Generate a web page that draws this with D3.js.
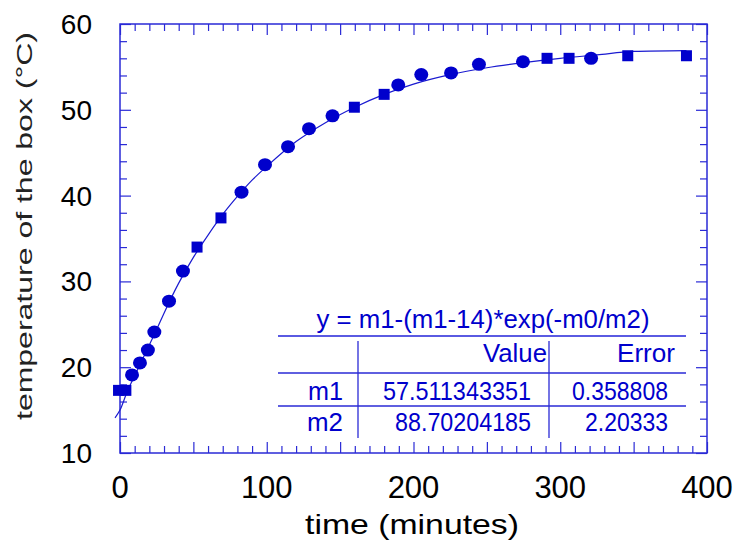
<!DOCTYPE html>
<html>
<head>
<meta charset="utf-8">
<script src="https://cdn.jsdelivr.net/npm/d3@7"></script>
<style>
  html, body { margin: 0; padding: 0; background: #ffffff; }
  svg { display: block; }
</style>
</head>
<body>
<div id="chart"></div>
<script>
// ---- data ----
const squareTimes = [-1, 4, 52.5, 68.8, 159.7, 180, 291, 306, 346, 386];
const squareTemps = [17.3, 17.3, 34.0, 37.4, 50.3, 51.8, 56.0, 56.0, 56.3, 56.3];

const roundTimes = [8.2, 13.6, 19, 23.4, 33.4, 42.9, 82.8, 98.8, 114.5, 128.8, 144.8, 189.6, 205.3, 225.6, 244.6, 274.6, 321];
const roundTemps = [19.1, 20.5, 22.0, 24.1, 27.7, 31.2, 40.4, 43.6, 45.7, 47.8, 49.3, 52.9, 54.1, 54.3, 55.3, 55.6, 56.0];

// fitted curve, as traced on the picture
const fitTimes = [-3.4, 0, 5, 10, 15, 20, 25, 30, 40, 50, 60, 70, 80, 90, 100, 120, 140, 160, 180, 200, 225, 250, 275, 300, 325, 350, 386];
const fitTemps = [14.1, 15.0, 17.2, 19.0, 20.8, 22.6, 24.4, 26.3, 29.8, 32.8, 35.4, 37.8, 39.9, 41.8, 43.4, 46.3, 48.5, 50.3, 51.8, 53.0, 54.1, 54.9, 55.5, 56.0, 56.4, 56.8, 56.9];

const xTickLabels = [0, 100, 200, 300, 400];
const yTickLabels = [10, 20, 30, 40, 50, 60];

const fitFormula = "y = m1-(m1-14)*exp(-m0/m2)";
const tableHeader = ["", "Value", "Error"];
const paramNames = ["m1", "m2"];
const paramValues = ["57.511343351", "88.70204185"];
const paramErrors = ["0.358808", "2.20333"];

const xTitle = "time (minutes)";
const yTitle = "temperature of the box (°C)";

// ---- drawing ----
const W = 741, H = 544;
const box = { left: 120, right: 707, top: 24, bottom: 453 };
const blue = "#0000cc";
const axisBlue = "#2a2ad6";

const svg = d3.select("#chart").append("svg")
  .attr("width", W).attr("height", H)
  .style("font-family", "'Liberation Sans', Arial, sans-serif");

const x = d3.scaleLinear().domain([0, 400]).range([box.left, box.right]);
const y = d3.scaleLinear().domain([10, 60]).range([box.bottom, box.top]);

const xMinor = d3.range(0, 401, 10).filter(v => v % 50 !== 0);
const xMajor = d3.range(0, 401, 50);
const yMinor = d3.range(10, 61, 2).filter(v => v % 10 !== 0);
const yMajor = d3.range(10, 61, 10);

function styleAxis(g) {
  g.select(".domain").remove();
  g.selectAll("line").attr("stroke", axisBlue).attr("stroke-width", 1.2);
  g.selectAll("text").remove();
}
const axes = [
  [d3.axisBottom(x), box.bottom, xMinor, xMajor, "x"],
  [d3.axisTop(x), box.top, xMinor, xMajor, "x"],
  [d3.axisLeft(y), box.left, yMinor, yMajor, "y"],
  [d3.axisRight(y), box.right, yMinor, yMajor, "y"]
];
axes.forEach(([ax, pos, minor, major, dir]) => {
  const tr = dir === "x" ? `translate(0,${pos})` : `translate(${pos},0)`;
  svg.append("g").attr("transform", tr)
    .call(ax.tickValues(minor).tickSize(-7).tickFormat(""))
    .call(styleAxis);
  svg.append("g").attr("transform", tr)
    .call(ax.tickValues(major).tickSize(-11).tickFormat(""))
    .call(styleAxis);
});

svg.append("rect")
  .attr("x", box.left).attr("y", box.top)
  .attr("width", box.right - box.left).attr("height", box.bottom - box.top)
  .attr("fill", "none").attr("stroke", axisBlue).attr("stroke-width", 1.5);

// tick labels
svg.append("g").selectAll("text").data(xTickLabels).join("text")
  .attr("x", d => x(d)).attr("y", 498)
  .attr("text-anchor", "middle").attr("font-size", 31).attr("fill", "#000")
  .text(d => d);
svg.append("g").selectAll("text").data(yTickLabels).join("text")
  .attr("x", 92).attr("y", d => y(d) + 10)
  .attr("text-anchor", "end").attr("font-size", 28).attr("fill", "#000")
  .text(d => d);

// axis titles
svg.append("text")
  .attr("x", 412).attr("y", 534)
  .attr("text-anchor", "middle").attr("font-size", 28).attr("fill", "#000")
  .attr("textLength", 214).attr("lengthAdjust", "spacingAndGlyphs")
  .text(xTitle);
svg.append("text")
  .attr("transform", "translate(32,226) rotate(-90)")
  .attr("text-anchor", "middle").attr("font-size", 22).attr("fill", "#222")
  .attr("textLength", 388).attr("lengthAdjust", "spacingAndGlyphs")
  .text(yTitle);

// fitted curve
const fitData = fitTimes.map((t, i) => [t, fitTemps[i]]);
svg.append("path")
  .datum(fitData)
  .attr("d", d3.line().x(d => x(d[0])).y(d => y(d[1])).curve(d3.curveMonotoneX))
  .attr("fill", "none").attr("stroke", "#1a1ad0").attr("stroke-width", 1.2);

// markers
const sq = squareTimes.map((t, i) => [t, squareTemps[i]]);
const rd = roundTimes.map((t, i) => [t, roundTemps[i]]);
svg.append("g").selectAll("rect").data(sq).join("rect")
  .attr("x", d => x(d[0]) - 5.5).attr("y", d => y(d[1]) - 5.5)
  .attr("width", 11).attr("height", 11).attr("fill", blue);
svg.append("g").selectAll("ellipse").data(rd).join("ellipse")
  .attr("cx", d => x(d[0])).attr("cy", d => y(d[1]))
  .attr("rx", 7).attr("ry", 6.5).attr("fill", blue);

// fit table
const tb = svg.append("g").attr("fill", blue).attr("font-size", 25);
const tl = { left: 278, right: 686, c1: 358, c2: 549 };
const hLines = [336, 373, 406];
tb.selectAll("line.h").data(hLines).join("line")
  .attr("x1", tl.left).attr("x2", tl.right).attr("y1", d => d).attr("y2", d => d)
  .attr("stroke", (d, i) => i === 0 ? "#5a5ae2" : "#2a2ad6").attr("stroke-width", (d, i) => i === 0 ? 2 : 1.3);
tb.selectAll("line.v").data([tl.c1, tl.c2]).join("line")
  .attr("x1", d => d).attr("x2", d => d).attr("y1", 341).attr("y2", 438)
  .attr("stroke", "#2a2ad6").attr("stroke-width", 1.3);

function tText(str, xr, yb, len, anchor) {
  tb.append("text").attr("x", xr).attr("y", yb)
    .attr("text-anchor", anchor || "end")
    .attr("textLength", len).attr("lengthAdjust", "spacingAndGlyphs")
    .text(str);
}
tText(fitFormula, 483, 328, 333, "middle");
tText(tableHeader[1], 547, 362, 64);
tText(tableHeader[2], 675, 362, 58);
const rowBase = [400, 431];
const nameW = [35, 36], valW = [148, 136], errW = [96, 83];
paramNames.forEach((n, i) => {
  tText(n, 343, rowBase[i], nameW[i]);
  tText(paramValues[i], 531, rowBase[i], valW[i]);
  tText(paramErrors[i], 668, rowBase[i], errW[i]);
});
</script>
</body>
</html>
